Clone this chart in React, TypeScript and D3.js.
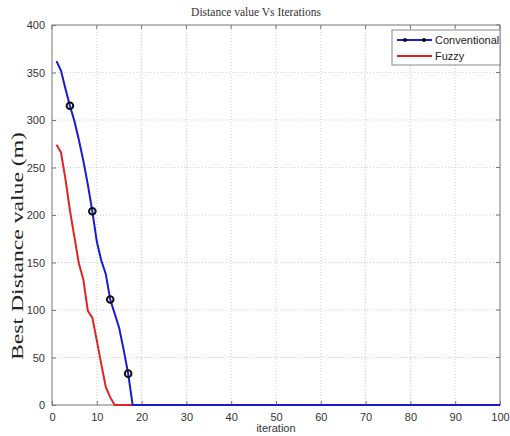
import { useRef, useEffect } from "react";
import * as d3 from "d3";

// iterations 1..100, values
const convIter = [1, 2, 3, 4, 5, 6, 7, 8, 9, 10, 11, 12, 13, 14, 15, 16, 17, 18, 100];
const convValues = [362, 352, 333, 315, 299, 279, 257, 232, 204, 172, 152, 138, 111, 96, 81, 58, 33, 0, 0];
const convMarkers = [4, 9, 13, 17];

const fuzzyIter = [1, 2, 3, 4, 5, 6, 7, 8, 9, 10, 11, 12, 13, 14, 100];
const fuzzyValues = [274, 266, 238, 205, 177, 149, 132, 99, 92, 68, 43, 19, 8, 0, 0];

const xTicks = [0, 10, 20, 30, 40, 50, 60, 70, 80, 90, 100];
const yTicks = [0, 50, 100, 150, 200, 250, 300, 350, 400];

function App() {
  const ref = useRef<SVGSVGElement>(null);

  useEffect(() => {
    const svg = d3.select(ref.current);
    svg.selectAll("*").remove();

    const margin = { left: 52, right: 10, top: 25, bottom: 31 };
    const width = 510;
    const height = 436;

    const x = d3.scaleLinear().domain([0, 100]).range([margin.left, width - margin.right]);
    const y = d3.scaleLinear().domain([0, 400]).range([height - margin.bottom, margin.top]);

    svg.append("rect").attr("width", width).attr("height", height).attr("fill", "#fff");

    // grid
    const grid = svg.append("g").attr("stroke", "#cfcfcf").attr("stroke-dasharray", "1,2");
    xTicks.slice(1, -1).forEach((t) => {
      grid.append("line").attr("x1", x(t)).attr("x2", x(t)).attr("y1", y(0)).attr("y2", y(400));
    });
    yTicks.slice(1, -1).forEach((t) => {
      grid.append("line").attr("x1", x(0)).attr("x2", x(100)).attr("y1", y(t)).attr("y2", y(t));
    });

    // axes (ticks inward)
    const xAxis = d3.axisBottom(x).tickValues(xTicks).tickSizeInner(-4).tickSizeOuter(0).tickPadding(8);
    const gx = svg.append("g").attr("transform", `translate(0,${y(0)})`).call(xAxis);
    const yAxis = d3.axisLeft(y).tickValues(yTicks).tickSizeInner(-4).tickSizeOuter(0).tickPadding(7);
    const gy = svg.append("g").attr("transform", `translate(${x(0)},0)`).call(yAxis);
    [gx, gy].forEach((g) => {
      g.selectAll("text").attr("font-family", "Liberation Sans, Arial, sans-serif").attr("font-size", 11).attr("fill", "#333");
      g.selectAll("line").attr("stroke", "#777");
      g.select(".domain").remove();
    });

    // top/right ticks
    const tt = svg.append("g").attr("stroke", "#777");
    xTicks.forEach((t) => tt.append("line").attr("x1", x(t)).attr("x2", x(t)).attr("y1", y(400)).attr("y2", y(400) + 4));
    yTicks.forEach((t) => tt.append("line").attr("x1", x(100)).attr("x2", x(100) - 4).attr("y1", y(t)).attr("y2", y(t)));

    // frame
    svg
      .append("rect")
      .attr("x", x(0))
      .attr("y", y(400))
      .attr("width", x(100) - x(0))
      .attr("height", y(0) - y(400))
      .attr("fill", "none")
      .attr("stroke", "#777");

    const line = d3
      .line<number>()
      .x((d) => x(d))
      .curve(d3.curveLinear);

    svg
      .append("path")
      .attr("d", line.y((d, i) => y(fuzzyValues[i]))(fuzzyIter))
      .attr("fill", "none")
      .attr("stroke", "#e02424")
      .attr("stroke-width", 2);

    svg
      .append("path")
      .attr("d", line.y((d, i) => y(convValues[i]))(convIter))
      .attr("fill", "none")
      .attr("stroke", "#1a1ad0")
      .attr("stroke-width", 2);

    svg
      .selectAll("circle.mk")
      .data(convMarkers)
      .join("circle")
      .attr("class", "mk")
      .attr("cx", (d) => x(d))
      .attr("cy", (d) => y(convValues[convIter.indexOf(d)]))
      .attr("r", 3.3)
      .attr("fill", "none")
      .attr("stroke", "#111")
      .attr("stroke-width", 2);

    // legend
    const lg = svg.append("g").attr("transform", `translate(${x(100) - 108},${y(400) + 5})`);
    lg.append("rect").attr("width", 108).attr("height", 35).attr("fill", "#fff").attr("stroke", "#888");
    lg.append("line").attr("x1", 5).attr("x2", 40).attr("y1", 10).attr("y2", 10).attr("stroke", "#1a1ad0").attr("stroke-width", 2);
    [13, 32].forEach((cx) => lg.append("circle").attr("cx", cx).attr("cy", 10).attr("r", 2).attr("fill", "#111"));
    lg.append("line").attr("x1", 5).attr("x2", 40).attr("y1", 26).attr("y2", 26).attr("stroke", "#e02424").attr("stroke-width", 2);
    lg.append("text").attr("x", 43).attr("y", 14).text("Conventional");
    lg.append("text").attr("x", 43).attr("y", 30).text("Fuzzy");
    lg.selectAll("text").attr("font-family", "Liberation Sans, Arial, sans-serif").attr("font-size", 11).attr("fill", "#222");

    // titles
    svg
      .append("text")
      .attr("x", 256)
      .attr("y", 16)
      .attr("text-anchor", "middle")
      .attr("font-family", "Liberation Serif, Times New Roman, serif")
      .attr("font-size", 11.5)
      .attr("fill", "#333")
      .text("Distance value Vs Iterations");

    svg
      .append("text")
      .attr("x", (x(0) + x(100)) / 2)
      .attr("y", 432)
      .attr("text-anchor", "middle")
      .attr("font-family", "Liberation Sans, Arial, sans-serif")
      .attr("font-size", 11)
      .attr("fill", "#333")
      .text("iteration");

    svg
      .append("text")
      .attr("transform", "translate(23,246) rotate(-90)")
      .attr("text-anchor", "middle")
      .attr("font-family", "Liberation Serif, Times New Roman, serif")
      .attr("font-size", 17)
      .attr("textLength", 228)
      .attr("lengthAdjust", "spacingAndGlyphs")
      .attr("fill", "#222")
      .text("Best Distance value (m)");
  }, []);

  return (
    <svg
      ref={ref}
      width={510}
      height={436}
      style={{ position: "absolute", left: 0, top: 0, display: "block" }}
    />
  );
}

export default App;
